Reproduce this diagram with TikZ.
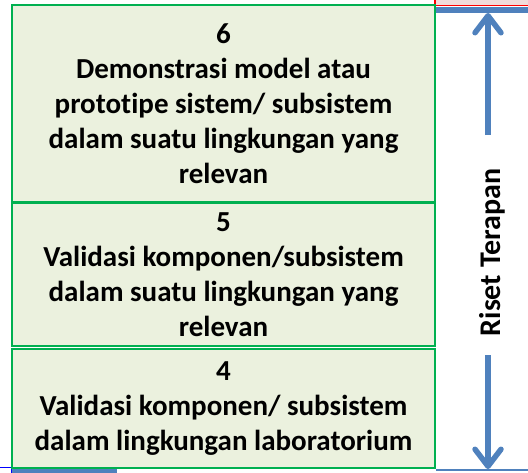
\documentclass[tikz,border=0pt]{standalone}
\usepackage{fontspec}
\setmainfont{Carlito}[Ligatures={NoCommon}]
\usetikzlibrary{arrows.meta}
\definecolor{boxfill}{HTML}{EBF1DE}
\definecolor{boxline}{HTML}{00B050}
\definecolor{arrblue}{HTML}{4F81BD}
\definecolor{pinkfill}{HTML}{F2DCDB}
\tikzset{
  x=1pt, y=-1pt,
  levelbox/.style={draw=boxline, fill=boxfill, line width=1.5pt, minimum width=423pt,
    inner sep=0pt, align=center, font=\fontsize{29}{35}\selectfont\bfseries},
  bluearrow/.style={draw=arrblue, line width=5.5pt,
    -{Straight Barb[length=17pt, width=26pt, round]}},
}
\begin{document}
\begin{tikzpicture}
\useasboundingbox (0,0) rectangle (528,472);
% top-right red box and blue line
\draw[draw=red, fill=pinkfill, line width=1.5pt] (435,-5) rectangle (533,5.5);
\draw[draw=arrblue, line width=6.5pt] (435,10) -- (528,10);
% bottom lines
\draw[draw=arrblue, line width=2pt] (436,470) -- (528,470);
\draw[draw=arrblue, line width=4pt] (11,470.5) -- (117,470.5);
\draw[draw=blue, line width=0.8pt] (-2,467) rectangle (11,476);
% boxes
\node[levelbox, minimum height=197pt] (box6) at (223.5,103.5)
  {6\\Demonstrasi model atau\\prototipe sistem/ subsistem\\dalam suatu lingkungan yang\\relevan};
\node[levelbox, minimum height=143pt] (box5) at (223.5,274.5)
  {5\\Validasi komponen/subsistem\\dalam suatu lingkungan yang\\relevan};
\node[levelbox, minimum height=119pt] (box4) at (223.5,408.5)
  {4\\Validasi komponen/ subsistem\\dalam lingkungan laboratorium};
% label and arrows
\node[rotate=90, font=\fontsize{30}{36}\selectfont\bfseries, inner sep=0pt] (riset) at (492,252.5) {Riset Terapan};
\coordinate (uptop) at (488,13);
\coordinate (upstart) at (488,135);
\coordinate (downend) at (488,469);
\coordinate (downstart) at (488,355);
\draw[bluearrow] (upstart) -- (uptop);
\draw[bluearrow] (downstart) -- (downend);
\end{tikzpicture}
\end{document}
